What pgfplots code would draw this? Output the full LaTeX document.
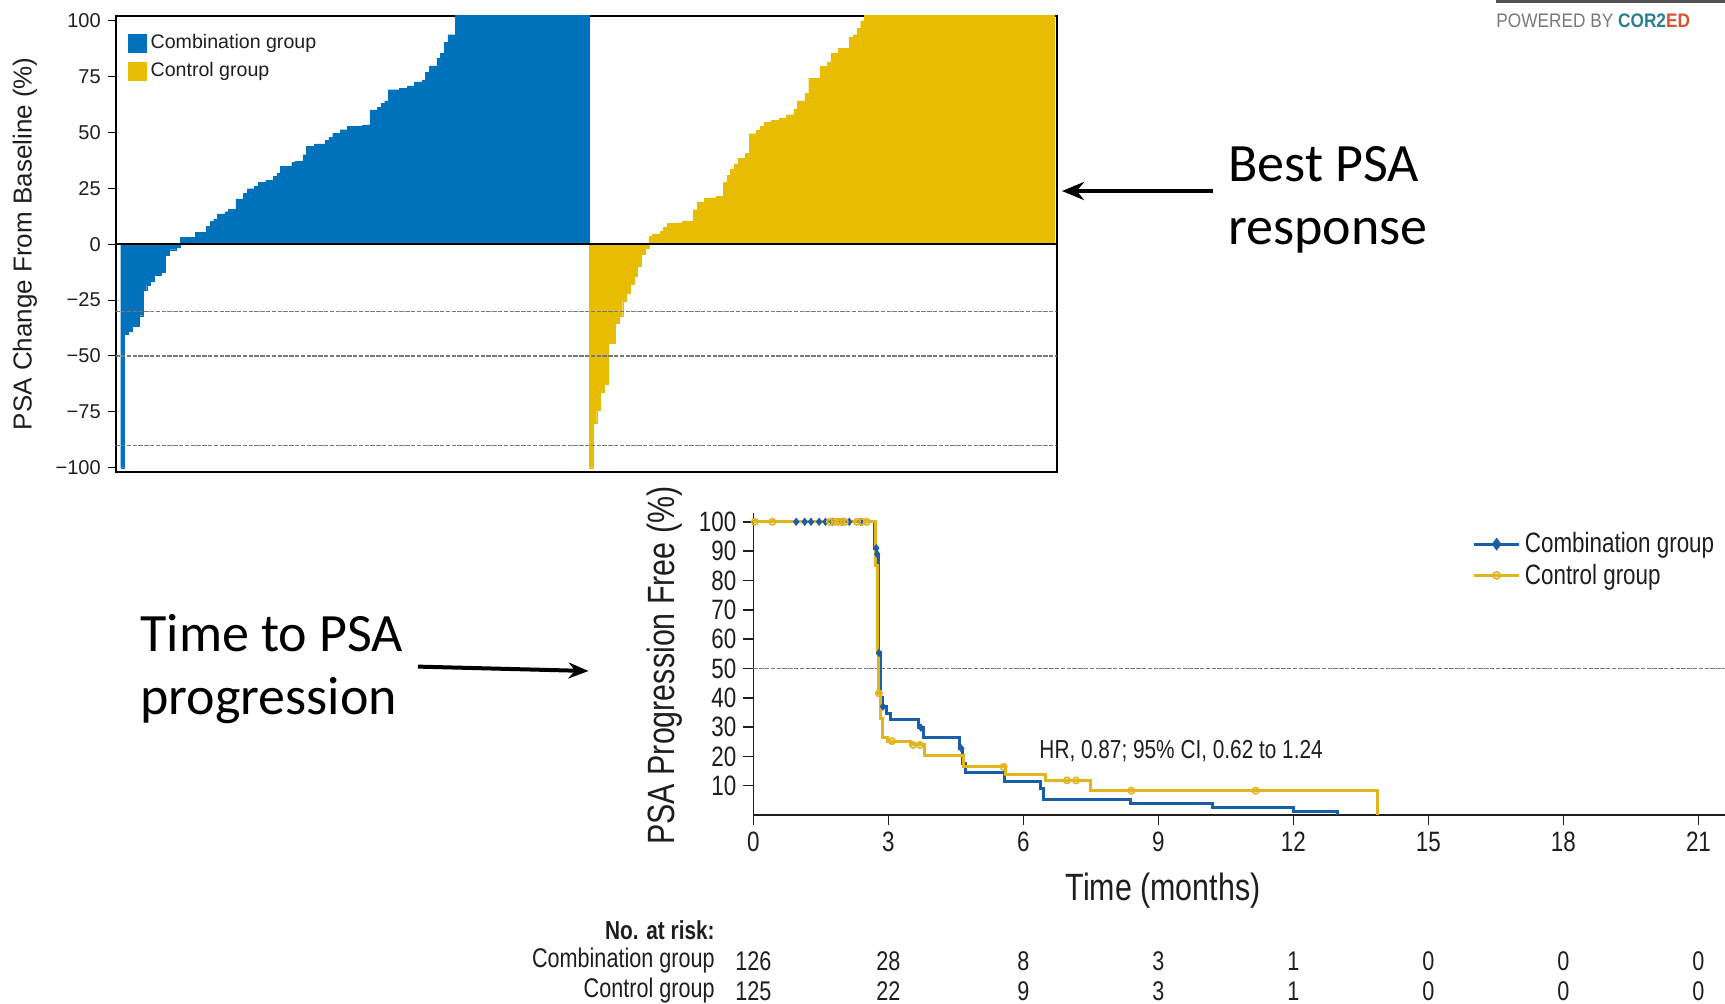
\documentclass[border=0pt]{standalone}
\usepackage{fontspec}
\setmainfont{Liberation Sans}
\newfontfamily\kmfont{Liberation Sans}[FakeStretch=0.8]
\newfontfamily\pbfont{Liberation Sans}[FakeStretch=0.88]
\newfontfamily\calfont{Carlito}
\usepackage{pgfplots}
\usepackage{pgfplotstable}
\pgfplotsset{compat=1.18}
\usetikzlibrary{arrows.meta}

\definecolor{wblue}{RGB}{0,114,188}
\definecolor{wyellow}{RGB}{232,188,0}
\definecolor{kblue}{RGB}{27,94,168}
\definecolor{kyellow}{RGB}{226,180,30}
\definecolor{dgray}{RGB}{120,120,120}
\definecolor{corteal}{RGB}{42,128,143}
\definecolor{corred}{RGB}{214,84,48}
\definecolor{txt}{RGB}{30,30,30}

\pgfplotstableread[row sep=\\]{
v\\ -100\\ -40.3\\ -39\\ -36.8\\ -36.8\\ -32\\ -20.4\\ -18.2\\ -16.7\\ -13.9\\ -13.9\\ -12.7\\ -4.9\\ -2.5\\ -2.5\\ -1.3\\
3.1\\ 3.1\\ 3.1\\ 3.1\\ 5.2\\ 5.2\\ 5.2\\ 7.9\\ 10.1\\ 11.2\\ 13.6\\ 13.6\\ 14.5\\ 15.7\\ 15.7\\ 20.3\\ 20.3\\ 22.8\\ 24.8\\ 24.8\\
26.1\\ 27.6\\ 27.6\\ 28.5\\ 28.5\\ 30.3\\ 31.8\\ 34.8\\ 34.8\\ 34.8\\ 36.5\\ 37.1\\ 37.1\\ 40\\ 43.7\\ 43.7\\ 44.9\\ 44.9\\ 44.9\\
46.4\\ 47.7\\ 49.7\\ 49.7\\ 51.2\\ 51.2\\ 52.6\\ 52.6\\ 52.6\\ 52.6\\ 53.4\\ 53.4\\ 60.1\\ 60.1\\ 61.1\\ 63.1\\ 64.1\\ 69.1\\ 69.1\\ 69.1\\
69.8\\ 69.8\\ 70.8\\ 70.8\\ 72.6\\ 72.6\\ 73.5\\ 76.8\\ 79.8\\ 79.8\\ 83.2\\ 85.5\\ 90.2\\ 93.7\\ 93.7\\
110\\ 110\\ 110\\ 110\\ 110\\ 110\\ 110\\ 110\\ 110\\ 110\\ 110\\ 110\\ 110\\ 110\\ 110\\ 110\\ 110\\ 110\\
110\\ 110\\ 110\\ 110\\ 110\\ 110\\ 110\\ 110\\ 110\\ 110\\ 110\\ 110\\ 110\\ 110\\ 110\\ 110\\ 110\\ 110\\
}\bluetab

\pgfplotstableread[row sep=\\]{
v\\ -100\\ -80.1\\ -74.4\\ -66.4\\ -62.5\\ -44.3\\ -44.3\\ -35.3\\ -32.1\\ -25.4\\ -21.9\\ -17.9\\ -14.2\\ -10\\ -4.5\\ -1.8\\
3.4\\ 4.6\\ 4.6\\ 5.7\\ 7.6\\ 9.4\\ 9.4\\ 9.4\\ 9.4\\ 10.1\\ 10.1\\ 10.1\\ 15.4\\ 18.9\\ 18.9\\ 20.6\\ 20.6\\ 20.6\\ 21.3\\ 21.3\\
27.6\\ 30.7\\ 33.7\\ 35.9\\ 38.5\\ 38.5\\ 40.7\\ 49.4\\ 49.4\\ 50.9\\ 52.6\\ 54.4\\ 54.4\\ 55.3\\ 55.3\\ 56.4\\ 56.4\\ 57.9\\ 57.9\\
60.4\\ 64.1\\ 64.1\\ 67.6\\ 74.3\\ 74.3\\ 74.3\\ 79.8\\ 79.8\\ 81.3\\ 85.5\\ 85.5\\ 87.7\\ 87.7\\ 87.7\\ 92.5\\ 93.7\\ 96.6\\ 99.9\\
110\\ 110\\ 110\\ 110\\ 110\\ 110\\ 110\\ 110\\ 110\\ 110\\ 110\\ 110\\ 110\\ 110\\ 110\\ 110\\ 110\\
110\\ 110\\ 110\\ 110\\ 110\\ 110\\ 110\\ 110\\ 110\\ 110\\ 110\\ 110\\ 110\\ 110\\ 110\\ 110\\ 110\\
110\\ 110\\ 110\\ 110\\ 110\\ 110\\ 110\\ 110\\ 110\\ 110\\ 110\\ 110\\ 110\\ 110\\ 110\\ 110\\ 110\\
}\yellowtab

\begin{document}
\begin{tikzpicture}
\path[use as bounding box] (0,0) rectangle (862.5pt,-501.5pt);

% ---------------- Waterfall ----------------
\begin{axis}[
  scale only axis, width=470.5pt, height=228pt,
  at={(57.85pt,-235.85pt)}, anchor=south west,
  xmin=-0.84, xmax=252.2, ymin=-101.8, ymax=102.2,
  xtick=\empty,
  ytick={-100,-75,-50,-25,0,25,50,75,100},
  yticklabels={−100,−75,−50,−25,0,25,50,75,100},
  axis line style={line width=1pt},
  tick align=outside, tick pos=left, major tick length=4pt,
  ytick style={black, line width=0.5pt},
  yticklabel style={font=\fontsize{10}{12}\selectfont, text=txt},
  ylabel={PSA Change From Baseline (\%)},
  ylabel style={font=\fontsize{13}{15}\selectfont, text=txt, at={(axis description cs:-0.0964,0.5)}, anchor=center},
  legend style={at={(axis description cs:0.013,0.968)}, anchor=north west, draw=none, fill=none,
     font=\fontsize{9.8}{11}\selectfont, row sep=1.4pt, inner sep=0pt, text=txt},
  legend cell align=left,
  legend image code/.code={\fill[#1] (0pt,-4.5pt) rectangle (9pt,4.5pt);},
]
\addplot[ybar, bar width=1, bar shift=0pt, fill=wblue, draw=wblue, line width=0.15pt]
  table[x expr=\coordindex+1, y=v] {\bluetab};
\addplot[ybar, bar width=1, bar shift=0pt, fill=wyellow, draw=wyellow, line width=0.15pt]
  table[x expr=\coordindex+127, y=v] {\yellowtab};
\legend{Combination group, Control group}
\addplot[dgray, line width=0.6pt, dash pattern=on 2.2pt off 0.7pt, forget plot] coordinates {(-1,-30) (253,-30)};
\addplot[dgray, line width=0.6pt, dash pattern=on 2.2pt off 0.7pt, forget plot] coordinates {(-1,-50) (253,-50)};
\addplot[dgray, line width=0.6pt, dash pattern=on 2.2pt off 0.7pt, forget plot] coordinates {(-1,-90) (253,-90)};
\addplot[black, line width=1pt, forget plot] coordinates {(-1,0) (253,0)};
\end{axis}

% ---------------- KM ----------------
\begin{axis}[
  scale only axis, width=485.8pt, height=151pt,
  at={(376.7pt,-407.5pt)}, anchor=south west,
  xmin=0, xmax=21.59, ymin=0, ymax=103,
  axis x line=bottom, axis y line=left,
  axis line style={-, line width=0.9pt, txt},
  xtick={0,3,...,21}, ytick={10,20,...,100},
  tick align=outside, major tick length=5pt,
  tick style={txt, line width=0.8pt},
  /pgf/number format/assume math mode=true,
  ticklabel style={font=\kmfont\fontsize{14}{16}\selectfont, text=txt},
  clip=false,
  legend style={at={(axis description cs:0.7396,0.95)}, anchor=north west, draw=none, fill=none,
     font=\kmfont\fontsize{14}{16}\selectfont, row sep=0pt, inner sep=0pt, text=txt},
  legend cell align=left,
  legend image code/.code={\draw[mark repeat=2,mark phase=2,#1] plot coordinates {(0cm,0cm) (0.4cm,0cm) (0.8cm,0cm)};},
]
\addlegendimage{kblue, line width=1.5pt, mark=diamond*, mark size=2pt, mark options={solid, fill=kblue}}
\addlegendentry{Combination group}
\addlegendimage{kyellow, line width=1.5pt, mark=o, mark size=1.8pt, mark options={solid, line width=0.8pt}}
\addlegendentry{Control group}

\addplot[dgray, line width=0.6pt, dash pattern=on 2.2pt off 0.7pt, forget plot] coordinates {(0,50) (21.59,50)};

\addplot[kblue, line width=1.5pt, const plot, forget plot] coordinates {
(0,100) (2.70,91) (2.74,89) (2.77,84) (2.79,55.3) (2.83,40) (2.87,37) (2.95,34.7) (3.05,32.6)
(3.66,29.8) (3.78,26.3) (4.59,22.7) (4.65,17.5) (4.72,14.5) (5.58,11.5) (6.38,9) (6.45,5.2)
(8.37,3.9) (10.21,2.5) (12.0,1.2) (12.98,0)};
\addplot[only marks, mark=diamond*, mark size=1.8pt, kblue, forget plot] coordinates {
(0.95,100) (1.14,100) (1.28,100) (1.46,100) (1.6,100) (1.75,100) (1.98,100) (2.13,100) (2.38,100)
(2.73,91) (2.75,89) (2.79,55.3) (2.88,37) (3.72,29.8) (4.62,22.7)};

\addplot[kyellow, line width=1.5pt, const plot, forget plot] coordinates {
(0,100) (2.71,85) (2.76,55) (2.79,41.5) (2.82,33) (2.87,26.5) (2.97,25.2) (3.50,23.9) (3.80,20.3)
(4.66,16.4) (5.61,13.8) (6.48,11.8) (7.48,8.3) (13.86,0)};
\addplot[only marks, mark=o, mark size=1.6pt, kyellow, line width=0.8pt, forget plot] coordinates {
(0.03,100) (0.42,100) (1.7,100) (1.8,100) (1.88,100) (1.95,100) (2.03,100) (2.3,100) (2.42,100) (2.52,100)
(2.79,41.5) (3.08,25.2) (3.55,23.9) (3.7,23.9) (5.56,16.4) (6.97,11.8) (7.17,11.8) (8.4,8.3) (11.16,8.3)};

\node[anchor=west, font=\kmfont\fontsize{13}{15}\selectfont, text=txt] at (axis cs:6.2,21.8) {HR, 0.87; 95\% CI, 0.62 to 1.24};
\end{axis}

% KM labels
\node[font=\kmfont\fontsize{19}{21}\selectfont, text=txt] at (581.5pt,-445.5pt) {Time (months)};
\node[rotate=90, font=\kmfont\fontsize{19}{21}\selectfont, text=txt] at (332.5pt,-332.75pt) {PSA Progression Free (\%)};

% at-risk table
\begin{scope}[every node/.style={font=\kmfont\fontsize{13.5}{15}\selectfont, text=txt, inner sep=0pt}]
\node[anchor=east, font=\kmfont\bfseries\fontsize{13}{15}\selectfont] at (357.5pt,-465pt) {No. at risk:};
\node[anchor=east] at (357.5pt,-480.5pt) {Combination group};
\node[anchor=east] at (357.5pt,-495.5pt) {Control group};
\foreach \x/\a/\b in {376.7/126/125, 444.2/28/22, 511.7/8/9, 579.2/3/3, 646.7/1/1, 714.2/0/0, 781.7/0/0, 849.2/0/0}{
  \node at (\x pt,-480.5pt) {\a};
  \node at (\x pt,-495.5pt) {\b};
}
\end{scope}

% annotations
\node[anchor=base west, font=\calfont\fontsize{27}{32}\selectfont, inner sep=0pt] at (614pt,-90.75pt) {Best PSA};
\node[anchor=base west, font=\calfont\fontsize{27}{32}\selectfont, inner sep=0pt] at (614pt,-122.1pt) {response};
\draw[line width=2pt, -{Stealth[length=11pt, width=9pt]}] (606.5pt,-95.5pt) -- (531pt,-95.5pt);

\node[anchor=base west, font=\calfont\fontsize{27}{32}\selectfont, inner sep=0pt] at (70pt,-325.6pt) {Time to PSA};
\node[anchor=base west, font=\calfont\fontsize{27}{32}\selectfont, inner sep=0pt] at (70pt,-357pt) {progression};
\draw[line width=2pt, -{Stealth[length=10pt, width=8pt]}] (209pt,-333.3pt) -- (294.25pt,-335.5pt);

% powered by
\draw[line width=1.5pt, color={rgb,255:red,80;green,80;blue,80}] (748pt,-0.75pt) -- (862.5pt,-0.75pt);
\node[anchor=base west, inner sep=0pt, font=\pbfont\fontsize{9.8}{11}\selectfont] at (748pt,-13.75pt)
  {\textcolor{dgray}{POWERED BY }\textcolor{corteal}{\bfseries COR2}\textcolor{corred}{\bfseries ED}};
\end{tikzpicture}
\end{document}
